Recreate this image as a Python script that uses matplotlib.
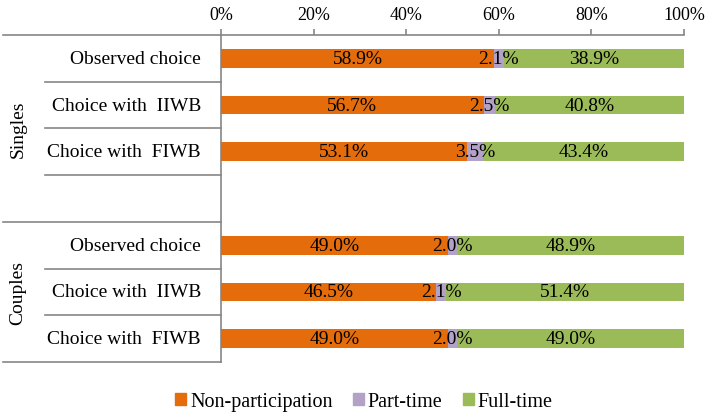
import matplotlib.pyplot as plt
import matplotlib.transforms as mtransforms
from matplotlib.patches import Patch
import numpy as np

plt.rcParams['font.family'] = ['Liberation Serif', 'DejaVu Serif']

# data (percent), row order top to bottom; empty slot between groups
rows = ['Observed choice', 'Choice with  IIWB', 'Choice with  FIWB', '',
        'Observed choice', 'Choice with  IIWB', 'Choice with  FIWB']
groups = ['Singles', 'Couples']
non_part = [58.9, 56.7, 53.1, None, 49.0, 46.5, 49.0]
part_time = [2.1, 2.5, 3.5, None, 2.0, 2.1, 2.0]
full_time = [38.9, 40.8, 43.4, None, 48.9, 51.4, 49.0]
series_names = ['Non-participation', 'Part-time', 'Full-time']
colors = ['#E46C0A', '#B3A2C7', '#9BBB59']

W, H = 705, 414
fs = 14
fig = plt.figure(figsize=(W / 100, H / 100), dpi=100)
x0, x1, ytop, ybot = 221, 684, 36, 363
ax = fig.add_axes([x0 / W, 1 - ybot / H, (x1 - x0) / W, (ybot - ytop) / H])

grey = '#868686'
for i in range(len(rows)):
    if non_part[i] is None:
        continue
    raw = [non_part[i], part_time[i], full_time[i]]
    vals = np.array(raw) / sum(raw) * 100  # 100% stacked
    left = 0
    for v, c, r in zip(vals, colors, raw):
        ax.barh(i, v, left=left, height=0.4, color=c, edgecolor='none')
        ax.text(left + v / 2, i, f'{r:.1f}%', ha='center', va='center',
                fontsize=fs, color='black')
        left += v

ax.set_xlim(0, 100)
ax.set_ylim(6.5, -0.5)
ax.xaxis.tick_top()
ax.set_xticks(np.arange(0, 101, 20))
ax.set_xticklabels([f'{t}%' for t in range(0, 101, 20)], fontsize=13)
ax.tick_params(axis='x', direction='out', length=4, color=grey, width=1.2, pad=5)
ax.set_yticks([])
for s in ['right', 'bottom']:
    ax.spines[s].set_visible(False)
for s in ['top', 'left']:
    ax.spines[s].set_color(grey)
    ax.spines[s].set_linewidth(1.2)

# label box lines
trans = mtransforms.blended_transform_factory(fig.transFigure, ax.transData)
for yb in [-0.5, 0.5, 1.5, 2.5, 3.5, 4.5, 5.5, 6.5]:
    xs = 3 if yb in (-0.5, 3.5, 6.5) else 45
    ax.plot([xs / W, x0 / W], [yb, yb], color=grey, lw=1.2,
            transform=trans, clip_on=False)

for i, r in enumerate(rows):
    ax.text(201 / W, i, r, transform=trans, ha='right', va='center',
            fontsize=fs)

ax.text(18 / W, 1.5, groups[0], transform=trans, rotation=90,
        ha='center', va='center', fontsize=fs)
ax.text(18 / W, 5.0, groups[1], transform=trans, rotation=90,
        ha='center', va='center', fontsize=fs)

handles = [Patch(color=c, label=n) for c, n in zip(colors, series_names)]
fig.legend(handles=handles, loc='center', bbox_to_anchor=(364 / W, 1 - 403 / H),
           ncol=3, frameon=False, fontsize=14.5, handlelength=0.55,
           handleheight=0.55, handletextpad=0.2, columnspacing=1.0)

fig.savefig('out.png', dpi=100)
